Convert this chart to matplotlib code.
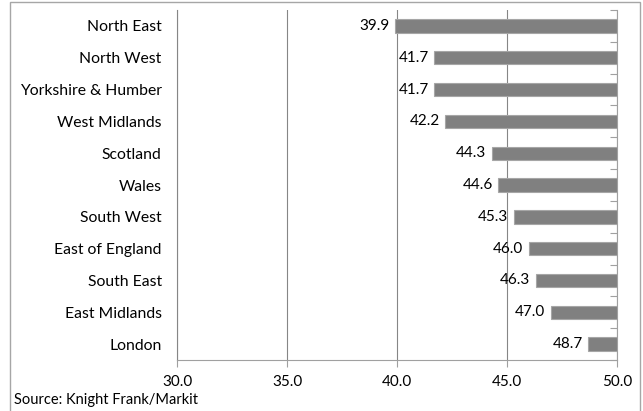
import matplotlib
matplotlib.use("Agg")
import matplotlib.pyplot as plt
from matplotlib.patches import Rectangle
import numpy as np

regions = ["North East", "North West", "Yorkshire & Humber", "West Midlands",
           "Scotland", "Wales", "South West", "East of England", "South East",
           "East Midlands", "London"]
ages = [39.9, 41.7, 41.7, 42.2, 44.3, 44.6, 45.3, 46.0, 46.3, 47.0, 48.7]
xticks = [30.0, 35.0, 40.0, 45.0, 50.0]
source = "Source: Knight Frank/Markit"

plt.rcParams['font.family'] = ['Lato', 'DejaVu Sans']
FS = 11

W, H = 643, 411
fig = plt.figure(figsize=(W/100, H/100), dpi=100)
ax = fig.add_axes([177/W, 1-360/H, (617-177)/W, (360-10)/H])

xmax = xticks[-1]
y = np.arange(len(regions))
ax.barh(y, [v - xmax for v in ages], left=xmax, height=0.42,
        color='#808080', edgecolor='#a6a6a6', linewidth=0.8, zorder=3)
for yi, v in zip(y, ages):
    ax.annotate(f"{v:.1f}", xy=(v, yi), xytext=(-4, 0), textcoords='offset points',
                ha='right', va='center', fontsize=FS, color='#000000', zorder=4)

ax.set_xlim(xticks[0], xticks[-1])
ax.set_ylim(len(regions) - 0.5, -0.5)
ax.set_xticks(xticks)
ax.set_xticklabels([f"{t:.1f}" for t in xticks], fontsize=FS)
ax.set_yticks(y)
ax.set_yticklabels(regions, fontsize=11.3)
ax.set_yticks(np.arange(len(regions) + 1) - 0.5, minor=True)

ax.tick_params(axis='y', which='major', length=0, pad=11)
ax.tick_params(axis='y', which='minor', left=False, right=True, direction='in',
               length=5, color='#a0a0a0', width=0.8)
ax.tick_params(axis='x', which='major', length=5, color='#a0a0a0', width=0.8, pad=6)

ax.grid(axis='x', color='#868686', linewidth=0.8, zorder=0)
ax.set_axisbelow(True)
for s in ['left', 'bottom', 'right']:
    ax.spines[s].set_color('#a0a0a0')
    ax.spines[s].set_linewidth(0.8)
ax.spines['top'].set_visible(False)
ax.spines['left'].set_color('#868686')

fig.add_artist(Rectangle((10/W, -0.05), (640-10)/W, 1.05 - 2/H,
                         transform=fig.transFigure, fill=False,
                         edgecolor='#a6a6a6', linewidth=1))
fig.text(14/W, 1-400/H, source, fontsize=10.5, va='center', ha='left')

fig.savefig("out.png", dpi=100)
